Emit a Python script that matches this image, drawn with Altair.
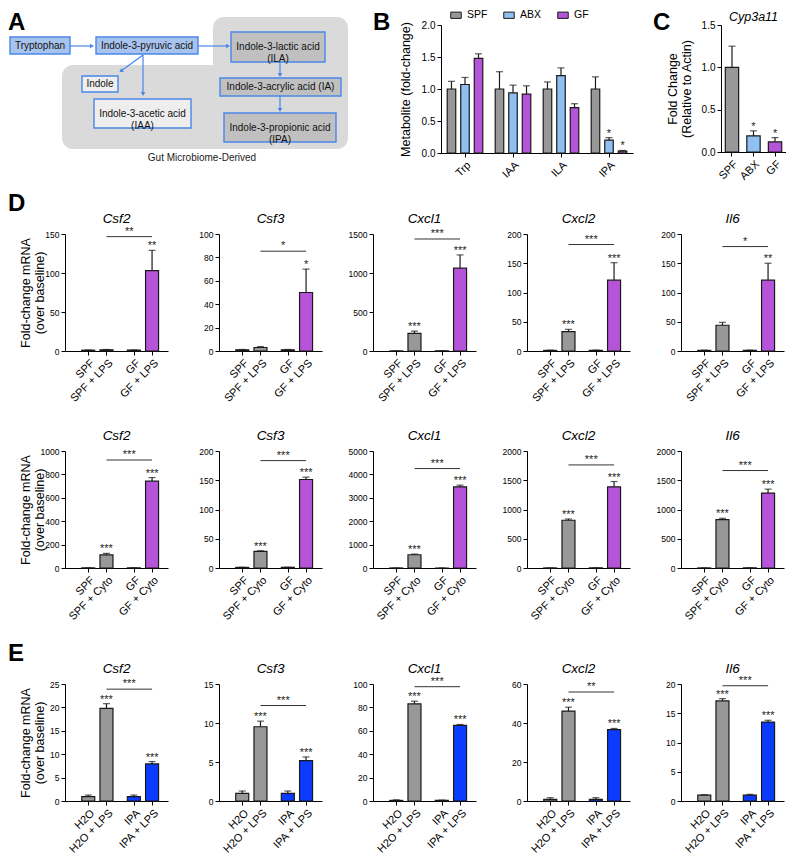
import math
import altair as alt
import pandas as pd

FONT = "Liberation Sans"
GRAY = "#989898"
LBLUE = "#8fbff3"
PURPLE = "#b654d9"
BLUE = "#0a3bff"
EDGE = "#1a1a1a"
ARROW = "#4a86e8"

# ---------------- Panel A : pathway diagram ----------------
node_labels = ["Tryptophan", "Indole-3-pyruvic acid", "Indole-3-lactic acid\n(ILA)", "Indole",
               "Indole-3-acetic acid\n(IAA)", "Indole-3-acrylic acid (IA)", "Indole-3-propionic acid\n(IPA)"]
node_kind = ["host", "host", "microbe", "other", "other", "microbe", "microbe"]
node_x1 = [10, 96, 231, 82, 94, 220, 224]
node_x2 = [70, 198, 325, 118, 191, 341, 336]
node_y1 = [37, 37, 32, 76, 99, 78, 113]
node_y2 = [54, 54, 62, 92, 128, 96, 142]
region_x1 = [213, 62]
region_x2 = [348, 348]
region_y1 = [17, 65]
region_y2 = [82, 149]
arrow_x1 = [70, 198, 143, 143, 280, 280]
arrow_y1 = [46, 46, 55, 55, 62, 96]
arrow_x2 = [92, 228, 121, 143, 280, 280]
arrow_y2 = [46, 46, 71, 94, 75, 110]
caption = "Gut Microbiome-Derived"

# ---------------- Panel B ----------------
met_names = ["Trp", "IAA", "ILA", "IPA"]
b_groups = ["SPF", "ABX", "GF"]
b_mean_spf = [1.0, 1.0, 1.0, 1.0]
b_mean_abx = [1.07, 0.94, 1.21, 0.20]
b_mean_gf = [1.48, 0.92, 0.71, 0.03]
b_err_spf = [0.12, 0.27, 0.11, 0.19]
b_err_abx = [0.11, 0.12, 0.12, 0.04]
b_err_gf = [0.07, 0.13, 0.06, 0.01]
b_star_spf = ["", "", "", ""]
b_star_abx = ["", "", "", "*"]
b_star_gf = ["", "", "", "*"]

# ---------------- Panel C ----------------
c_groups = ["SPF", "ABX", "GF"]
c_mean = [1.0, 0.19, 0.12]
c_err = [0.25, 0.06, 0.05]
c_star = ["", "*", "*"]

# ---------------- Panels D / E ----------------
genes = ["Csf2", "Csf3", "Cxcl1", "Cxcl2", "Il6"]
lps_cats = ["SPF", "SPF + LPS", "GF", "GF + LPS"]
cyto_cats = ["SPF", "SPF + Cyto", "GF", "GF + Cyto"]
ipa_cats = ["H2O", "H2O + LPS", "IPA", "IPA + LPS"]

d1_mean = [[1, 1.5, 1, 103], [1, 3, 1, 50], [1, 225, 1, 1062], [1, 33, 1, 121], [1, 44, 1, 121]]
d1_err = [[0.3, 0.4, 0.3, 26], [0.3, 0.8, 0.3, 20], [1, 30, 1, 170], [0.5, 4, 0.5, 30], [0.5, 5, 0.5, 29]]
d1_star = [["", "", "", "**"], ["", "", "", "*"], ["", "***", "", "***"], ["", "***", "", "***"], ["", "", "", "**"]]
d1_bracket = [146.6, 85.3, 1436, 182, 178.5]
d1_bstar = ["**", "*", "***", "***", "*"]
d1_ticks = [[0, 50, 100, 150], [0, 20, 40, 60, 80, 100], [0, 500, 1000, 1500],
            [0, 50, 100, 150, 200], [0, 50, 100, 150, 200]]

d2_mean = [[1, 113, 1, 742], [1, 28.3, 1, 151.3], [1, 567, 1, 3470], [1, 816, 1, 1388], [1, 827, 1, 1280]]
d2_err = [[0.3, 12, 0.3, 31], [0.3, 1.2, 0.3, 4], [1, 28, 1, 70], [1, 22, 1, 90], [1, 23, 1, 68]]
d2_star = [["", "***", "", "***"]] * 5
d2_bracket = [923, 183.6, 4249, 1762, 1666]
d2_bstar = ["***", "***", "***", "***", "***"]
d2_ticks = [[0, 200, 400, 600, 800, 1000], [0, 50, 100, 150, 200], [0, 1000, 2000, 3000, 4000, 5000],
            [0, 500, 1000, 1500, 2000], [0, 500, 1000, 1500, 2000]]

e_mean = [[0.92, 19.8, 0.92, 7.93], [0.98, 9.52, 0.98, 5.18], [0.5, 83, 0.5, 64.6],
          [0.85, 46.1, 0.85, 36.6], [1.02, 17.1, 1.02, 13.5]]
e_err = [[0.35, 1.0, 0.35, 0.5], [0.3, 0.72, 0.3, 0.47], [0.5, 2.3, 0.3, 0.8],
         [0.85, 2.0, 0.85, 0.6], [0.06, 0.4, 0.12, 0.3]]
e_star = [["", "***", "", "***"]] * 5
e_bracket = [23.9, 12.24, 97.7, 55.9, 19.7]
e_bstar = ["***", "***", "***", "**", "***"]
e_ticks = [[0, 5, 10, 15, 20, 25], [0, 5, 10, 15], [0, 20, 40, 60, 80, 100], [0, 20, 40, 60], [0, 5, 10, 15, 20]]

Y_TITLE = ["Fold-change mRNA", "(over baseline)"]

# ================= build panel A =================
nodes = pd.DataFrame({"label": node_labels, "kind": node_kind, "x1": node_x1, "x2": node_x2,
                      "y1": node_y1, "y2": node_y2})
regions = pd.DataFrame({"x1": region_x1, "x2": region_x2, "y1": region_y1, "y2": region_y2})
arrows = pd.DataFrame({"x1": arrow_x1, "y1": arrow_y1, "x2": arrow_x2, "y2": arrow_y2})
arrows["ang"] = [math.degrees(math.atan2(bx - ax, -(by - ay))) % 360
                 for ax, ay, bx, by in zip(arrow_x1, arrow_y1, arrow_x2, arrow_y2)]

axs = alt.Scale(domain=[65, 353], nice=False, zero=False)
ays = alt.Scale(domain=[25, 153], nice=False, zero=False, reverse=True)


def AX(f):
    return alt.X(f, scale=axs, axis=None)


def AY(f):
    return alt.Y(f, scale=ays, axis=None)


def spacer(dx, dy):
    # invisible box that reserves the top band of a row
    return alt.Chart(pd.DataFrame({"s": [0]})).mark_rect(opacity=0).encode(
        x=alt.value(dx), x2=alt.value(dx + 4), y=alt.value(dy), y2=alt.value(dy + 4))


a_regions = alt.Chart(regions).mark_rect(cornerRadius=11, color="#dadada").encode(
    x=AX("x1:Q"), x2="x2:Q", y=AY("y1:Q"), y2="y2:Q")
a_boxes = alt.Chart(nodes).mark_rect(stroke=ARROW, strokeWidth=1.4).encode(
    x=AX("x1:Q"), x2="x2:Q", y=AY("y1:Q"), y2="y2:Q",
    fill=alt.Fill("kind:N", scale=alt.Scale(domain=["host", "microbe", "other"],
                                            range=["#a8c4ee", "#c0c0c0", "#eeeeee"]), legend=None))
a_text = alt.Chart(nodes).transform_calculate(
    xm="(datum.x1 + datum.x2) / 2", ym="(datum.y1 + datum.y2) / 2").mark_text(
    fontSize=10, lineBreak="\n", color="#111", baseline="middle").encode(
    x=AX("xm:Q"), y=AY("ym:Q"), text="label:N")
a_lines = alt.Chart(arrows).mark_rule(color=ARROW, strokeWidth=1.2).encode(
    x=AX("x1:Q"), y=AY("y1:Q"), x2="x2:Q", y2="y2:Q")
a_heads = alt.Chart(arrows).mark_point(shape="triangle-up", filled=True, size=20, color=ARROW, opacity=1).encode(
    x=AX("x2:Q"), y=AY("y2:Q"), angle=alt.Angle("ang:Q", scale=None))
a_caption = alt.Chart(pd.DataFrame({"t": [caption], "x": [202], "y": [158]})).mark_text(
    fontSize=10, color="#222", baseline="middle").encode(x=AX("x:Q"), y=AY("y:Q"), text="t:N")
a_letter = alt.Chart(pd.DataFrame({"t": ["A"], "x": [8], "y": [11]})).mark_text(
    fontSize=24, fontWeight="bold", align="left", baseline="top", color="black").encode(
    x=AX("x:Q"), y=AY("y:Q"), text="t:N")
chartA = alt.layer(a_regions, a_boxes, a_text, a_lines, a_heads, a_caption, a_letter,
                   spacer(0, -17)).properties(width=288, height=128)


def letter_layer(letter, dx, dy, opacity=1):
    return alt.Chart(pd.DataFrame({"t": [letter]})).mark_text(
        fontSize=24, fontWeight="bold", align="left", baseline="top", color="black", opacity=opacity
    ).encode(x=alt.value(dx), y=alt.value(dy), text="t:N")


def title_layer(text, dx, dy, size=13.5):
    return alt.Chart(pd.DataFrame({"t": [text]})).mark_text(
        fontSize=size, fontStyle="italic", align="center", baseline="alphabetic", color="black"
    ).encode(x=alt.value(dx), y=alt.value(dy), text="t:N")


def y_axis(ticks, fmt, size, title_x, h):
    return alt.Axis(values=ticks, format=fmt, labelFontSize=size, labelColor="black", tickSize=4,
                    tickColor="black", domainColor="black", labelPadding=2, grid=False,
                    titleFontSize=12.5, titleFontWeight="normal", titleColor="black",
                    titleX=title_x, titleY=h / 2, titleBaseline="bottom", titleAlign="center")


def x_band_axis():
    return alt.Axis(labelAngle=-45, labelAlign="right", labelBaseline="top", labelFontSize=11,
                    labelColor="black", tickSize=4, tickColor="black", domainColor="black",
                    labelPadding=2, labelOverlap=False, grid=False)


# ================= build panel B =================
b_mean = [b_mean_spf, b_mean_abx, b_mean_gf]
b_err = [b_err_spf, b_err_abx, b_err_gf]
b_star = [b_star_spf, b_star_abx, b_star_gf]
rowsB = []
for i, m in enumerate(met_names):
    for j, g in enumerate(b_groups):
        rowsB.append({"met": m, "grp": g, "mean": b_mean[j][i], "err": b_err[j][i], "star": b_star[j][i]})
dfB = pd.DataFrame(rowsB)
HB = 128
baseB = alt.Chart(dfB).transform_calculate(top="datum.mean + datum.err")
xB = alt.X("met:N", sort=met_names, scale=alt.Scale(paddingInner=0, paddingOuter=0), axis=x_band_axis(), title=None)
xoB = alt.XOffset("grp:N", sort=b_groups, scale=alt.Scale(paddingInner=0.37, paddingOuter=0.46))
ysB = alt.Scale(domain=[0, 2], nice=False)
yaB = y_axis([0, 0.5, 1, 1.5, 2], ".1f", 10, -29, HB)


def YB(f):
    return alt.Y(f, scale=ysB, axis=yaB, title="Metabolite (fold-change)")


legB = alt.Legend(orient="none", legendX=9, legendY=-16, direction="horizontal", title=None,
                  symbolType="M-1,-0.6L1,-0.6L1,0.6L-1,0.6Z", symbolSize=110, symbolStrokeColor=EDGE,
                  symbolStrokeWidth=1, labelFontSize=10.5, labelColor="black", columnPadding=13, labelOffset=5)
b_bars = baseB.mark_bar(stroke=EDGE, strokeWidth=1.2).encode(
    x=xB, xOffset=xoB, y=YB("mean:Q"),
    fill=alt.Fill("grp:N", sort=b_groups, scale=alt.Scale(domain=b_groups, range=[GRAY, LBLUE, PURPLE]), legend=legB))
b_err_l = baseB.mark_rule(color=EDGE, strokeWidth=1.2).encode(x=xB, xOffset=xoB, y=YB("mean:Q"), y2="top:Q")
b_caps = baseB.mark_tick(orient="horizontal", size=7, thickness=1.2, color=EDGE).encode(
    x=xB, xOffset=xoB, y=YB("top:Q"))
b_stars = baseB.mark_text(fontSize=11, baseline="alphabetic", dy=-1, color="#222").encode(
    x=xB, xOffset=xoB, y=YB("top:Q"), text="star:N")
chartB = alt.layer(b_bars, b_err_l, b_caps, b_stars, letter_layer("B", -68, -14),
                   spacer(-68, -17)).properties(width=192, height=HB)

# ================= build panel C =================
dfC = pd.DataFrame({"grp": c_groups, "mean": c_mean, "err": c_err, "star": c_star})
HC = 127
baseC = alt.Chart(dfC).transform_calculate(top="datum.mean + datum.err")
xC = alt.X("grp:N", sort=c_groups, scale=alt.Scale(paddingInner=0.38, paddingOuter=0.2), axis=x_band_axis(), title=None)
ysC = alt.Scale(domain=[0, 1.5], nice=False)
yaC = y_axis([0, 0.5, 1, 1.5], ".1f", 10, -42, HC)


def YC(f):
    return alt.Y(f, scale=ysC, axis=yaC, title=["Fold Change", "(Relative to Actin)"])


c_bars = baseC.mark_bar(stroke=EDGE, strokeWidth=1.2).encode(
    x=xC, y=YC("mean:Q"),
    fill=alt.Fill("grp:N", scale=alt.Scale(domain=c_groups, range=[GRAY, LBLUE, PURPLE]), legend=None))
c_err_l = baseC.mark_rule(color=EDGE, strokeWidth=1.2).encode(x=xC, y=YC("mean:Q"), y2="top:Q")
c_caps = baseC.mark_tick(orient="horizontal", size=7, thickness=1.2, color=EDGE).encode(x=xC, y=YC("top:Q"))
c_stars = baseC.mark_text(fontSize=11, baseline="alphabetic", dy=-1, color="#222").encode(
    x=xC, y=YC("top:Q"), text="star:N")
chartC = alt.layer(c_bars, c_err_l, c_caps, c_stars, letter_layer("C", -68, -14), spacer(-68, -17),
                   title_layer("Cyp3a11", 65 / 2, -4, 12.5)).properties(width=65, height=HC)

# ================= small bar panels (D / E) =================
W, H = 103, 117


def panel(gene, cats, colors, mean, err, star, bracket, bstar, ticks, ytitle=None, letter=None, ghost=False):
    df = pd.DataFrame({"cat": cats, "grp": [cats[0], cats[0], cats[2], cats[2]], "mean": mean, "err": err,
                       "star": star, "idx": list(range(len(cats))), "bracket": bracket, "bstar": bstar})
    pos_vals = [i + (0.5 if i >= 2 else 0) for i in range(len(cats))]
    expr = " : ".join(f"datum.value == {p} ? '{c}'" for p, c in zip(pos_vals[:-1], cats[:-1])) + f" : '{cats[-1]}'"
    xscale = alt.Scale(domain=[-1, 4.1], nice=False, zero=False)
    xaxis = alt.Axis(values=pos_vals, labelExpr=expr, labelAngle=-45, labelAlign="right", labelBaseline="top",
                     labelFontSize=11, labelColor="black", labelPadding=2, tickSize=4, tickColor="black",
                     domainColor="black", labelOverlap=False, labelFlush=False, grid=False)
    yscale = alt.Scale(domain=[0, ticks[-1]], nice=False)
    yaxis = y_axis(ticks, "d", 8.5, -33, H)

    def X(f):
        return alt.X(f, scale=xscale, axis=xaxis, title=None)

    def Y(f):
        return alt.Y(f, scale=yscale, axis=yaxis, title=ytitle)

    base = alt.Chart(df).transform_calculate(pos="datum.idx + (datum.idx >= 2 ? 0.5 : 0)",
                                             top="datum.mean + datum.err")
    bars = base.mark_bar(size=13, stroke=EDGE, strokeWidth=1.2).encode(
        x=X("pos:Q"), y=Y("mean:Q"),
        fill=alt.Fill("grp:N", scale=alt.Scale(domain=[cats[0], cats[2]], range=colors), legend=None))
    errs = base.mark_rule(color=EDGE, strokeWidth=1.2).encode(x=X("pos:Q"), y=Y("mean:Q"), y2="top:Q")
    caps = base.mark_tick(orient="horizontal", size=7, thickness=1.2, color=EDGE).encode(x=X("pos:Q"), y=Y("top:Q"))
    stars = base.mark_text(fontSize=11, baseline="alphabetic", dy=-1, color="#222").encode(
        x=X("pos:Q"), y=Y("top:Q"), text="star:N")
    br = base.transform_filter("datum.idx == 1 || datum.idx == 3").transform_aggregate(
        x1="min(pos)", x2="max(pos)", groupby=["bracket", "bstar"]).transform_calculate(
        xm="(datum.x1 + datum.x2) / 2")
    brule = br.mark_rule(color="#333", strokeWidth=1).encode(x=X("x1:Q"), x2="x2:Q", y=Y("bracket:Q"))
    btext = br.mark_text(fontSize=11, baseline="alphabetic", dy=-2, color="#222").encode(
        x=X("xm:Q"), y=Y("bracket:Q"), text="bstar:N")
    layers = [bars, errs, caps, stars, brule, btext, title_layer(gene, W / 2, -11)]
    if letter:
        if ghost:
            layers.append(spacer(-57, -42))
        else:
            layers.append(letter_layer(letter, -57, -42))
    return alt.layer(*layers).properties(width=W, height=H)


def row(cats, colors, means, errs, stars, brackets, bstars, ticks, letter, ghost=False):
    charts = []
    for k, g in enumerate(genes):
        charts.append(panel(g, cats, colors, means[k], errs[k], stars[k], brackets[k], bstars[k], ticks[k],
                            ytitle=Y_TITLE if k == 0 else None, letter=letter if k == 0 else None,
                            ghost=ghost))
    return alt.hconcat(*charts, spacing=51, bounds="flush").resolve_scale(fill="independent")


rowD1 = row(lps_cats, [GRAY, PURPLE], d1_mean, d1_err, d1_star, d1_bracket, d1_bstar, d1_ticks, "D")
rowD2 = row(cyto_cats, [GRAY, PURPLE], d2_mean, d2_err, d2_star, d2_bracket, d2_bstar, d2_ticks, "D", ghost=True)
rowE = row(ipa_cats, [GRAY, BLUE], e_mean, e_err, e_star, e_bracket, e_bstar, e_ticks, "E")

row1 = alt.hconcat(chartA, chartB, chartC, spacing=88, bounds="flush").resolve_scale(fill="independent")

inner2 = alt.vconcat(rowD2, rowE, spacing=20).resolve_scale(fill="independent")
inner1 = alt.vconcat(rowD1, inner2, spacing=5).resolve_scale(fill="independent")

chart = alt.vconcat(row1, inner1, spacing=10).resolve_scale(fill="independent").properties(
    padding=0).configure(font=FONT).configure_view(stroke=None).configure_axis(
    labelFont=FONT, titleFont=FONT, grid=False).configure_title(font=FONT).configure_text(
    font=FONT).configure_legend(labelFont=FONT, padding=0)

chart.save("out.html", embed_options={"renderer": "svg", "actions": False})
